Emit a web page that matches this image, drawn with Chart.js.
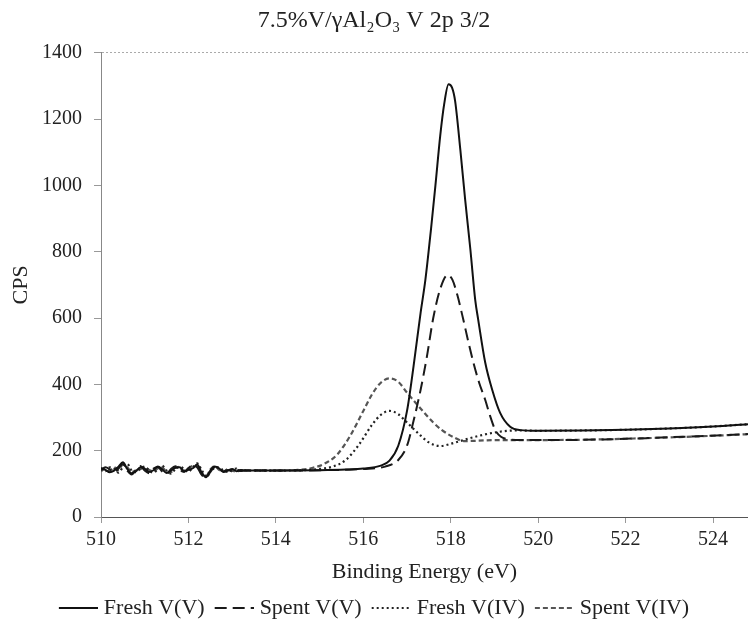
<!DOCTYPE html>
<html><head><meta charset="utf-8">
<script src="https://cdn.jsdelivr.net/npm/chart.js@4"></script>
<style>html,body{margin:0;padding:0;background:#fff}</style>
</head><body>
<canvas id="c" width="748" height="636"></canvas>
<script>
// ---- data ----
const seriesNames = ['Fresh V(V)', 'Spent V(V)', 'Fresh V(IV)', 'Spent V(IV)'];
const xTicks = [510, 512, 514, 516, 518, 520, 522, 524];
const yTicks = [0, 200, 400, 600, 800, 1000, 1200, 1400];

// noisy low-energy region (shared energies)
const noiseE = [510.0,510.1,510.2,510.3,510.4,510.5,510.6,510.7,510.8,510.9,511.0,511.1,511.2,511.3,511.4,511.5,511.6,511.7,511.8,511.9,512.0,512.1,512.2,512.3,512.4,512.5,512.6,512.7,512.8,512.9,513.0,513.1,513.2,513.3,513.4];
const noiseFreshV  = [148,142,135,140,152,165,145,132,138,150,146,136,141,152,144,133,140,148,150,138,142,147,158,135,120,140,152,147,136,140,145,138,142,140,140];
const noiseSpentV  = [142,150,144,134,146,160,140,128,142,154,140,132,146,151,137,130,145,153,141,136,148,156,150,128,118,135,150,144,138,142,137,143,139,140,140];
const noiseFreshIV = [145,138,150,146,134,150,160,140,135,146,152,140,134,144,155,140,131,144,152,145,136,150,162,142,125,138,148,150,140,136,142,146,139,141,140];
const noiseSpentIV = [138,146,140,150,142,158,150,136,140,144,150,142,138,147,150,136,135,150,146,140,146,154,152,130,122,143,154,142,137,144,140,137,141,140,141];

// peak region
const freshVE = [514.0,515.0,515.6,516.0,516.4,516.6,516.8,517.0,517.15,517.31,517.42,517.55,517.65,517.76,517.85,517.95,518.03,518.1,518.22,518.33,518.45,518.56,518.63,518.79,518.95,519.13,519.36,519.6,520.0,521.0,522.0,523.0,524.0,524.8];
const freshVY = [140,141,143,146,155,170,215,320,455,615,715,870,1000,1150,1245,1305,1295,1255,1107,957,806,655,594,465,383,314,272,262,260,261,263,267,273,280];

const spentVE = [514.0,515.0,516.0,516.5,516.8,517.0,517.15,517.31,517.45,517.6,517.76,517.93,518.04,518.15,518.29,518.4,518.52,518.65,518.79,518.9,519.02,519.15,519.3,519.6,520.5,521.5,522.5,523.5,524.8];
const spentVY = [140,141,145,152,172,215,290,383,480,600,688,730,715,670,594,530,465,405,353,305,262,242,235,232,232,234,238,243,250];

const freshIVE = [514.0,514.6,515.0,515.3,515.6,515.9,516.2,516.4,516.6,516.8,517.0,517.3,517.5,517.76,518.06,518.5,519.06,519.5,520.0,521.0,522.0,523.0,524.0,524.8];
const freshIVY = [140,141,145,152,172,218,278,308,320,310,285,247,225,214,223,240,256,261,260,261,263,267,273,280];

const spentIVE = [514.0,514.5,514.8,515.1,515.4,515.7,516.0,516.2,516.4,516.6,516.8,517.0,517.3,517.6,517.8,518.06,518.3,518.6,519.0,520.0,521.0,522.0,523.0,524.0,524.8];
const spentIVY = [140,142,147,160,188,245,320,370,405,418,408,375,329,285,262,241,229,230,232,232,233,236,240,245,250];

function pts(noiseY, e, y) {
  return noiseE.map((x, i) => ({x: x, y: noiseY[i]}))
    .concat(e.map((x, i) => ({x: x, y: y[i]})));
}

// legend line samples (small canvases used as legend point style)
function sample(color, dash, width) {
  const c = document.createElement('canvas');
  c.width = 44; c.height = 8;
  const g = c.getContext('2d');
  g.strokeStyle = color; g.lineWidth = width; g.setLineDash(dash);
  g.beginPath(); g.moveTo(5, 4); g.lineTo(44, 4); g.stroke();
  return c;
}

const FONT = 'Liberation Serif';
const TXT = '#222';
const styles = [
  {color: '#111', dash: [], width: 2},
  {color: '#1a1a1a', dash: [12, 6], width: 2},
  {color: '#222', dash: [2, 3], width: 2.2},
  {color: '#555', dash: [5, 3], width: 2.2}
];
const dataArr = [
  pts(noiseFreshV, freshVE, freshVY),
  pts(noiseSpentV, spentVE, spentVY),
  pts(noiseFreshIV, freshIVE, freshIVY),
  pts(noiseSpentIV, spentIVE, spentIVY)
];

new Chart(document.getElementById('c'), {
  type: 'line',
  data: {
    datasets: seriesNames.map((n, i) => ({
      label: n, data: dataArr[i], borderColor: styles[i].color, backgroundColor: 'transparent',
      borderWidth: styles[i].width, borderDash: styles[i].dash,
      pointStyle: sample(styles[i].color, styles[i].dash, styles[i].width)
    }))
  },
  options: {
    responsive: false,
    animation: false,
    devicePixelRatio: 1,
    layout: {padding: {left: 0, right: 0, top: 0, bottom: 7}},
    elements: {point: {radius: 0}, line: {cubicInterpolationMode: 'monotone', fill: false}},
    plugins: {
      title: {display: true, text: '7.5%V/γAl₂O₃ V 2p 3/2', color: TXT,
        font: {family: FONT, size: 24, weight: 'normal'}, padding: {top: 6, bottom: 18}},
      legend: {position: 'bottom',
        labels: {usePointStyle: true, pointStyleWidth: 34, color: TXT,
          font: {family: FONT, size: 22}, padding: 10}},
      tooltip: {enabled: false}
    },
    scales: {
      x: {type: 'linear', min: 510, max: 524.8,
        afterBuildTicks: s => { s.ticks = xTicks.map(v => ({value: v})); },
        afterFit: s => { s.height = 70; },
        ticks: {color: TXT, font: {family: FONT, size: 20}, padding: 5, maxRotation: 0, autoSkip: false,
          callback: v => String(v)},
        grid: {drawOnChartArea: false, tickLength: 6, tickColor: '#999'},
        border: {color: '#555', width: 1},
        title: {display: true, text: 'Binding Energy (eV)', color: TXT, font: {family: FONT, size: 22}, padding: {top: 0, bottom: 2}}
      },
      y: {min: 0, max: 1400,
        afterBuildTicks: s => { s.ticks = yTicks.map(v => ({value: v})); },
        afterFit: s => { s.width = 101; },
        ticks: {color: TXT, font: {family: FONT, size: 20}, padding: 12, callback: v => String(v)},
        grid: {color: c => (c.tick && c.tick.value === 1400) ? '#aaa' : 'rgba(0,0,0,0)', tickLength: 7, tickColor: '#999'},
        border: {color: '#888', width: 1, dash: [2, 2]},
        title: {display: true, text: 'CPS', color: TXT, font: {family: FONT, size: 22}, padding: {top: 8, bottom: 0}}
      }
    }
  }
});
</script>
</body></html>
